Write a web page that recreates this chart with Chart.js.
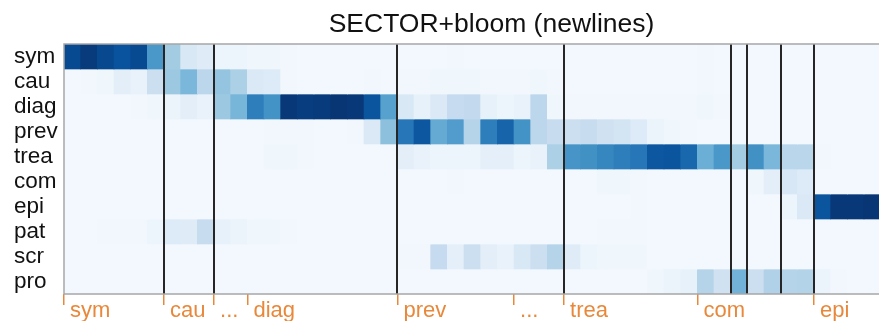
<!DOCTYPE html>
<html>
<head>
<meta charset="utf-8">
<script src="https://cdn.jsdelivr.net/npm/chart.js@4/dist/chart.umd.min.js"></script>
<style>
  html, body { margin: 0; padding: 0; background: #ffffff; }
  #wrap { width: 879px; height: 321px; position: relative; }
</style>
</head>
<body>
<div id="wrap"><canvas id="heat"></canvas></div>
<script>
// Row categories (top to bottom)
const rowLabels = ['sym', 'cau', 'diag', 'prev', 'trea', 'com', 'epi', 'pat', 'scr', 'pro'];

// Intensity per column (0-100), one array per row
const symRow  = [90, 96, 91, 87, 90, 60, 36, 15, 12, 5, 5, 4, 4, 3, 2, 2, 2, 2, 2, 2, 2, 2, 2, 3, 2, 2, 2, 2, 2, 2, 2, 2, 2, 2, 2, 2, 2, 2, 3, 2, 2, 2, 2, 2, 2, 2, 2, 2, 2];
const cauRow  = [2, 3, 4, 10, 7, 22, 38, 46, 28, 40, 33, 14, 13, 3, 2, 2, 2, 2, 3, 2, 3, 3, 4, 4, 4, 3, 3, 3, 4, 3, 2, 2, 2, 2, 2, 2, 2, 2, 3, 2, 2, 2, 2, 2, 2, 2, 2, 2, 2];
const diagRow = [2, 2, 2, 2, 3, 4, 6, 10, 7, 38, 47, 70, 62, 97, 95, 96, 98, 97, 86, 56, 15, 8, 14, 25, 26, 8, 5, 7, 28, 4, 3, 3, 3, 3, 3, 3, 3, 3, 4, 3, 2, 2, 2, 2, 2, 2, 2, 2, 2];
const prevRow = [2, 2, 2, 2, 2, 2, 2, 2, 2, 2, 2, 2, 3, 3, 3, 2, 2, 3, 14, 42, 73, 85, 52, 58, 30, 70, 80, 62, 28, 24, 22, 24, 20, 18, 13, 6, 4, 3, 2, 2, 2, 2, 2, 2, 2, 2, 2, 2, 2];
const treaRow = [2, 2, 2, 2, 2, 2, 2, 2, 2, 2, 2, 2, 4, 4, 3, 2, 2, 2, 2, 2, 10, 7, 5, 5, 5, 9, 9, 5, 7, 33, 61, 63, 67, 70, 73, 85, 86, 79, 50, 60, 36, 63, 46, 29, 29, 3, 2, 2, 2];
const comRow  = [2, 2, 2, 2, 2, 2, 2, 2, 2, 2, 2, 2, 2, 2, 2, 2, 2, 2, 2, 2, 2, 2, 2, 3, 2, 2, 2, 2, 2, 2, 2, 2, 4, 4, 3, 2, 2, 2, 2, 2, 2, 4, 10, 16, 13, 2, 2, 2, 2];
const epiRow  = [2, 2, 2, 2, 2, 2, 2, 2, 2, 2, 2, 2, 2, 2, 2, 2, 2, 2, 2, 2, 2, 2, 2, 2, 2, 2, 2, 2, 2, 2, 2, 2, 2, 2, 3, 2, 2, 2, 2, 2, 2, 2, 2, 5, 14, 86, 97, 97, 98];
const patRow  = [2, 2, 3, 3, 3, 5, 13, 12, 24, 8, 6, 4, 4, 3, 2, 2, 2, 2, 2, 2, 2, 2, 2, 2, 2, 2, 2, 2, 2, 2, 2, 2, 3, 3, 3, 2, 2, 2, 2, 2, 2, 2, 2, 2, 2, 2, 2, 2, 2];
const scrRow  = [2, 2, 2, 2, 2, 2, 2, 2, 2, 2, 2, 2, 2, 2, 2, 2, 2, 2, 2, 2, 3, 3, 25, 9, 22, 10, 7, 15, 22, 30, 12, 5, 4, 4, 4, 2, 2, 2, 2, 2, 2, 2, 2, 2, 2, 2, 2, 2, 2];
const proRow  = [2, 2, 2, 2, 2, 2, 2, 2, 2, 2, 2, 2, 2, 2, 2, 2, 2, 2, 2, 2, 2, 2, 2, 2, 2, 2, 2, 2, 2, 2, 2, 2, 2, 2, 2, 4, 6, 8, 30, 20, 48, 22, 32, 30, 31, 6, 3, 2, 2];
const rows = [symRow, cauRow, diagRow, prevRow, treaRow, comRow, epiRow, patRow, scrRow, proRow];

// Section markers along the bottom and the column boundaries drawn as dividers
const sectionStarts = [0, 6, 9, 11, 20, 27, 30, 38, 45];
const sectionLabels = ['sym', 'cau', '...', 'diag', 'prev', '...', 'trea', 'com', 'epi'];
const dividers = [6, 9, 20, 30, 40, 41, 43, 45];

const TITLE = 'SECTOR+bloom (newlines)';
const FONT = '"Liberation Sans", Arial, Helvetica, sans-serif';
const ORANGE = '#e8883a';
const BLUES = ['#f7fbff', '#deebf7', '#c6dbef', '#9ecae1', '#6baed6', '#4292c6', '#2171b5', '#08519c', '#08306b'];

function hexToRgb(h) {
  const n = parseInt(h.slice(1), 16);
  return [(n >> 16) & 255, (n >> 8) & 255, n & 255];
}
const BLUES_RGB = BLUES.map(hexToRgb);

function bluesColor(v) {
  const t = Math.max(0, Math.min(1, v / 100)) * (BLUES_RGB.length - 1);
  const i = Math.min(Math.floor(t), BLUES_RGB.length - 2);
  const f = t - i;
  const a = BLUES_RGB[i], b = BLUES_RGB[i + 1];
  const c = a.map((x, k) => Math.round(x + (b[k] - x) * f));
  return `rgb(${c[0]},${c[1]},${c[2]})`;
}

const datasets = rows.map((vals, r) => ({
  label: rowLabels[r],
  data: vals.map((v, i) => ({ x: i + 0.5, y: [r - 0.5, r + 0.5] })),
  backgroundColor: vals.map(bluesColor),
  borderWidth: 0,
  barPercentage: 1,
  categoryPercentage: 1,
  grouped: false,
  xAxisID: 'x',
  yAxisID: 'y'
}));

// Gray frame on the top, left and bottom edges of the plot, plus the heading
const framePlugin = {
  id: 'frame',
  afterDraw(chart) {
    const { ctx, chartArea: a } = chart;
    ctx.save();
    ctx.strokeStyle = '#a6a6a6';
    ctx.lineWidth = 1.5;
    ctx.beginPath();
    ctx.moveTo(a.right + 2, a.top);
    ctx.lineTo(a.left, a.top);
    ctx.lineTo(a.left, a.bottom);
    ctx.lineTo(a.right + 2, a.bottom);
    ctx.stroke();

    ctx.fillStyle = '#111111';
    ctx.font = '26.5px ' + FONT;
    ctx.textAlign = 'center';
    ctx.textBaseline = 'alphabetic';
    ctx.fillText(TITLE, a.left + 427.5, a.top - 12.5);
    ctx.restore();
  }
};

Chart.defaults.font.family = FONT;

new Chart(document.getElementById('heat'), {
  type: 'bar',
  data: { datasets },
  plugins: [framePlugin],
  options: {
    responsive: true,
    maintainAspectRatio: false,
    animation: false,
    layout: { padding: { left: 14, right: 0, top: 0, bottom: 0 } },
    plugins: { legend: { display: false }, tooltip: { enabled: false } },
    scales: {
      x: {
        type: 'linear',
        position: 'bottom',
        min: 0,
        max: 48.9,
        offset: false,
        afterBuildTicks: (s) => { s.ticks = sectionStarts.map((v) => ({ value: v })); },
        afterFit: (s) => { s.height = 27; },
        grid: { offset: false, drawOnChartArea: false, drawTicks: true, tickLength: 11, color: ORANGE, lineWidth: 1.5 },
        border: { display: false },
        ticks: {
          autoSkip: false,
          maxRotation: 0,
          align: 'start',
          padding: -7,
          color: ORANGE,
          font: { size: 22 },
          callback: (v, i) => ' ' + sectionLabels[i]
        }
      },
      xTop: {
        type: 'linear',
        position: 'top',
        min: 0,
        max: 48.9,
        offset: false,
        afterBuildTicks: (s) => { s.ticks = dividers.map((v) => ({ value: v })); },
        afterFit: (s) => { s.height = 44; },
        grid: { z: 1, offset: false, drawTicks: false, drawOnChartArea: true, color: '#262626', lineWidth: 2 },
        border: { display: false },
        ticks: { display: false }
      },
      y: {
        type: 'linear',
        min: -0.5,
        max: 9.5,
        reverse: true,
        afterBuildTicks: (s) => { s.ticks = rowLabels.map((_, i) => ({ value: i })); },
        afterFit: (s) => { s.width = 50; },
        grid: { display: false },
        border: { display: false },
        ticks: {
          autoSkip: false,
          color: '#111111',
          font: { size: 22.5 },
          crossAlign: 'far',
          padding: 0,
          callback: (v, i) => rowLabels[i]
        }
      }
    }
  }
});
</script>
</body>
</html>
